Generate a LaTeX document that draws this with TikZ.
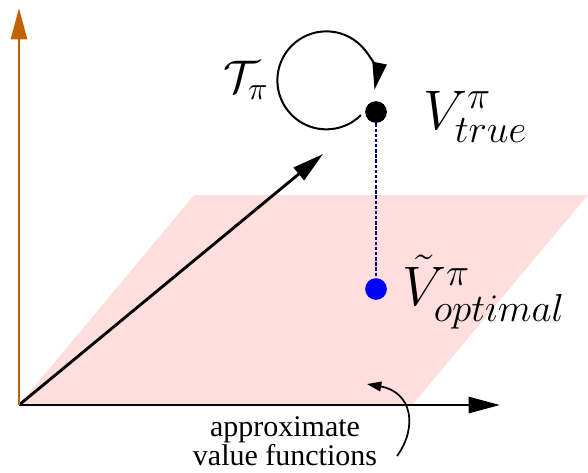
\RequirePackage{fix-cm}
\documentclass[tikz,border=0pt]{standalone}
\usepackage{amsmath,amssymb}
\usepackage[no-math]{fontspec}
\setmainfont{Liberation Serif}
\usepackage{xcolor}
\usetikzlibrary{arrows.meta}

\definecolor{axisorange}{RGB}{192,98,0}
\definecolor{planepink}{RGB}{255,222,222}

\begin{document}
\begin{tikzpicture}[x=0.35pt, y=0.35pt,
    bigarrow/.style={line width=1pt, -{Triangle[length=11pt,width=5.6pt]}},
    dot/.style={circle, inner sep=0pt, minimum size=7.6pt},
    mathlabel/.style={anchor=west, font=\fontsize{19.5}{23}\selectfont}]
  \useasboundingbox (0,0) rectangle (588,472);
  % the plane of approximate value functions
  \fill[planepink] (19,67) -- (412,67) -- (588,277) -- (194,277) -- cycle;
  \coordinate (O) at (19,67);
  \coordinate (xtip) at (500,67);
  \coordinate (ytip) at (19,464);
  \coordinate (dtip) at (323,318);
  \draw[bigarrow] (O) -- (xtip);
  \draw[bigarrow] (O) -- (dtip);
  \draw[bigarrow, axisorange] (O) -- (ytip);
  % points
  \node[dot, fill=black] (vtrue) at (376,360) {};
  \node[dot, fill=blue] (vopt) at (376,183) {};
  \draw[densely dashed, dash pattern=on 1.2pt off 0.6pt, blue!50!black, line width=0.6pt] (vtrue) -- (vopt);
  \node[mathlabel] (ltrue) at (413,355) {$V^{\pi}_{true}$};
  \node[mathlabel] (lopt) at (392,180) {$\tilde{V}^{\pi}_{optimal}$};
  % Bellman operator loop
  \coordinate (loopstart) at (361,357);
  \draw[line width=0.7pt, -{Triangle[length=9.5pt,width=5pt]}]
    (loopstart) arc[start angle=-45, end angle=-371, radius=49];
  \node[font=\fontsize{16}{18}\selectfont] (tpi) at (246,392) {$\mathcal{T}_{\pi}$};
  % caption
  \node[align=center, font=\fontsize{10.5}{10.2}\selectfont] (cap) at (285,31) {approximate\\value functions};
  \coordinate (cstart) at (397,16);
  \coordinate (cend) at (367,88);
  \draw[line width=0.6pt, -{Triangle[length=5pt,width=3.4pt]}]
    (cstart) .. controls (418,45) and (412,80) .. (cend);
\end{tikzpicture}
\end{document}
